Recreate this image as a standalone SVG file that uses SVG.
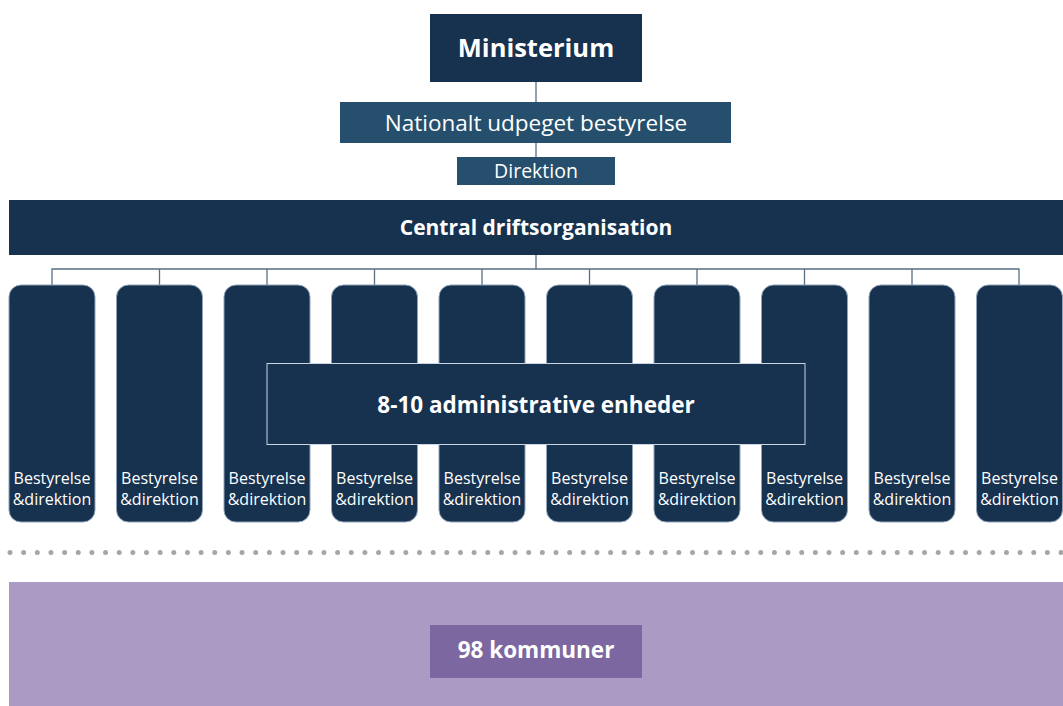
<svg xmlns="http://www.w3.org/2000/svg" width="1063" height="706" viewBox="0 0 1063 706">
<defs>
<style>
text{font-family:"Open Sans","Noto Sans","Liberation Sans",sans-serif;fill:#ffffff;text-anchor:middle}
.b{font-weight:bold}
.navy{fill:#17324f}
.mid{fill:#254f6d}
.col{fill:#17324f;stroke:#8fa2b8;stroke-width:1}
.ln{stroke:#5a6e84;stroke-width:1.3;fill:none}
.ct{font-size:16px}
</style>
</defs>
<g id="connectors">
<line class="ln" x1="536" y1="82" x2="536" y2="102"/>
<line class="ln" x1="536" y1="143" x2="536" y2="157"/>
<line class="ln" x1="536" y1="255" x2="536" y2="269"/>
<path class="ln" d="M52 285V269H1019V285M159.5 269V285M267 269V285M374.5 269V285M482 269V285M589.5 269V285M697 269V285M804.5 269V285M912 269V285"/>
</g>
<g id="ministerium"><rect class="navy" x="430" y="14" width="212" height="68"/><text class="b" x="536" y="57" font-size="25.5">Ministerium</text></g>
<g id="nationalt"><rect class="mid" x="340" y="102" width="391" height="41"/><text x="536" y="131" font-size="22.5">Nationalt udpeget bestyrelse</text></g>
<g id="direktion"><rect class="mid" x="457" y="157" width="158" height="28"/><text x="536" y="178" font-size="19.5">Direktion</text></g>
<g id="central"><rect class="navy" x="9" y="200" width="1054" height="55"/><text class="b" x="536" y="235" font-size="21">Central driftsorganisation</text></g>
<g id="col1"><rect class="col" x="9" y="285" width="86" height="237" rx="12"/><text class="ct" x="52" y="484">Bestyrelse</text><text class="ct" x="52" y="505">&amp;direktion</text></g>
<g id="col2"><rect class="col" x="116.5" y="285" width="86" height="237" rx="12"/><text class="ct" x="159.5" y="484">Bestyrelse</text><text class="ct" x="159.5" y="505">&amp;direktion</text></g>
<g id="col3"><rect class="col" x="224" y="285" width="86" height="237" rx="12"/><text class="ct" x="267" y="484">Bestyrelse</text><text class="ct" x="267" y="505">&amp;direktion</text></g>
<g id="col4"><rect class="col" x="331.5" y="285" width="86" height="237" rx="12"/><text class="ct" x="374.5" y="484">Bestyrelse</text><text class="ct" x="374.5" y="505">&amp;direktion</text></g>
<g id="col5"><rect class="col" x="439" y="285" width="86" height="237" rx="12"/><text class="ct" x="482" y="484">Bestyrelse</text><text class="ct" x="482" y="505">&amp;direktion</text></g>
<g id="col6"><rect class="col" x="546.5" y="285" width="86" height="237" rx="12"/><text class="ct" x="589.5" y="484">Bestyrelse</text><text class="ct" x="589.5" y="505">&amp;direktion</text></g>
<g id="col7"><rect class="col" x="654" y="285" width="86" height="237" rx="12"/><text class="ct" x="697" y="484">Bestyrelse</text><text class="ct" x="697" y="505">&amp;direktion</text></g>
<g id="col8"><rect class="col" x="761.5" y="285" width="86" height="237" rx="12"/><text class="ct" x="804.5" y="484">Bestyrelse</text><text class="ct" x="804.5" y="505">&amp;direktion</text></g>
<g id="col9"><rect class="col" x="869" y="285" width="86" height="237" rx="12"/><text class="ct" x="912" y="484">Bestyrelse</text><text class="ct" x="912" y="505">&amp;direktion</text></g>
<g id="col10"><rect class="col" x="976.5" y="285" width="86" height="237" rx="12"/><text class="ct" x="1019.5" y="484">Bestyrelse</text><text class="ct" x="1019.5" y="505">&amp;direktion</text></g>
<g id="admin"><rect x="267" y="363.5" width="538" height="81" fill="#17324f" stroke="#c9d5e2" stroke-width="1"/><text class="b" x="536" y="413" font-size="22.5">8-10 administrative enheder</text></g>
<g id="divider"><line x1="10" y1="552.5" x2="1063" y2="552.5" stroke="#a6a6a6" stroke-width="5" stroke-linecap="round" stroke-dasharray="0 13.65"/></g>
<g id="kommuner-band"><rect x="9" y="582" width="1054" height="124" fill="#aa9ac4"/></g>
<g id="kommuner"><rect x="430" y="625" width="212" height="53" fill="#7c67a0"/><text class="b" x="536" y="658" font-size="22.5">98 kommuner</text></g>
</svg>
